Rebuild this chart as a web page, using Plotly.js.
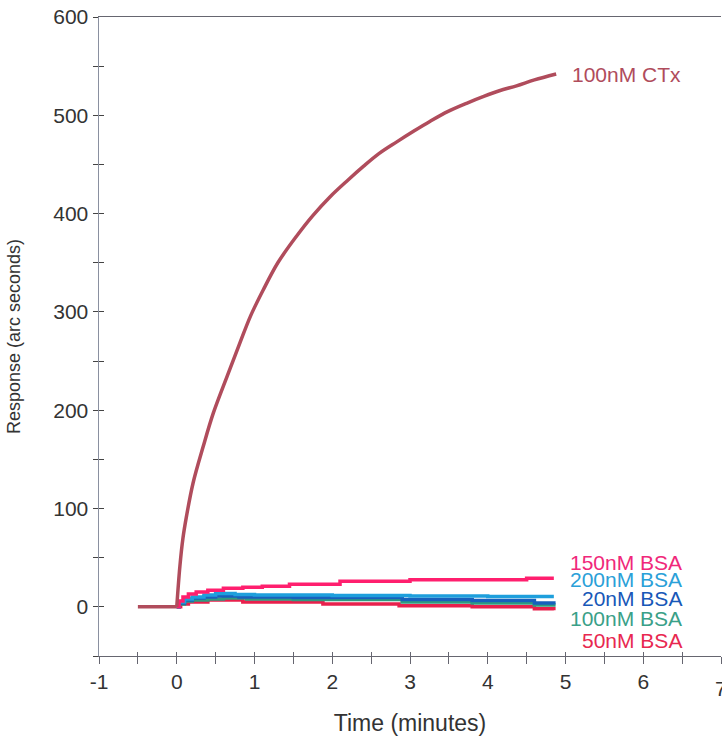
<!DOCTYPE html>
<html>
<head>
<meta charset="utf-8">
<script src="https://cdn.plot.ly/plotly-3.0.1.min.js"></script>
<style>html,body{margin:0;padding:0;background:#fff;overflow:hidden;}#chart{width:722px;height:738px;}</style>
</head>
<body>
<div id="chart"></div>
<script>
// Time (minutes) and response (arc seconds)
const ctxBaseT = [-0.5, 0];
const ctxBaseV = [0, 0];
const ctxT = [0, 0.04, 0.08, 0.125, 0.21, 0.34, 0.47, 0.65, 0.81, 0.95, 1.11, 1.3, 1.54, 1.75, 1.97, 2.2, 2.4, 2.6, 2.83, 3.05, 3.26, 3.49, 3.75, 3.94, 4.15, 4.37, 4.6, 4.88];
const ctxV = [0, 41, 70, 92, 126, 163, 197, 235, 268, 296, 322, 350, 377, 398, 417, 434, 448, 461, 473, 484, 494, 504, 513, 519, 525, 530, 536, 542];

const bsa150T = [0, 0.03, 0.08, 0.15, 0.25, 0.4, 0.6, 0.85, 1.1, 1.45, 2.1, 3.0, 4.5, 4.85];
const bsa150V = [0, 6, 10, 13, 15, 17, 19, 20, 21, 23, 26, 27.5, 29, 29];

const bsa200T = [0, 0.03, 0.1, 0.2, 0.35, 0.5, 0.75, 1.0, 2.0, 3.0, 4.0, 4.85];
const bsa200V = [0, 5, 8, 10, 12, 13.5, 12.5, 12, 11.5, 11, 10.5, 10.5];

const bsa20T = [0, 0.03, 0.1, 0.2, 0.35, 0.5, 0.8, 1.5, 2.9, 3.8, 4.6, 4.85];
const bsa20V = [0, 4, 7, 9, 10, 11, 10, 9.5, 7.5, 6.5, 4, 2.5];

const bsa100T = [0, 0.03, 0.1, 0.2, 0.4, 0.6, 0.9, 1.5, 2.9, 3.8, 4.6, 4.85];
const bsa100V = [0, 3, 6, 7, 8, 9, 8, 7.5, 5, 4, 2, 0];

const bsa50T = [0, 0.05, 0.15, 0.4, 0.85, 1.88, 2.86, 3.8, 4.6, 4.85];
const bsa50V = [0, 3, 5, 7, 5, 3, 1, 0, -2, -3.5];

const seriesNames = ["100nM CTx", "150nM BSA", "200nM BSA", "20nM BSA", "100nM BSA", "50nM BSA"];
const lineColors = ["#b04c5c", "#ff1f6e", "#1e9fdc", "#1860bc", "#2e9c80", "#e8204c"];
const labelColors = ["#b04c5c", "#f0287a", "#2aa0d8", "#1858b8", "#3aa088", "#e82850"];
const labelY = [542, 45.6, 27.8, 8.5, -12, -34.4];

const xTicks = [-1, 0, 1, 2, 3, 4, 5, 6, 7];
const yTicks = [0, 100, 200, 300, 400, 500, 600];

const font = "Liberation Sans, Arial, Helvetica, sans-serif";

const bsa = [[bsa150T, bsa150V], [bsa200T, bsa200V], [bsa20T, bsa20V], [bsa100T, bsa100V], [bsa50T, bsa50V]];
const traces = [];
// drawing order: 50nM, 100nM, 20nM, 200nM, 150nM (indexes into bsa)
const order = [4, 3, 2, 1, 0];
order.forEach(i => {
  traces.push({
    x: bsa[i][0], y: bsa[i][1], type: "scatter", mode: "lines",
    line: {color: lineColors[i + 1], width: 3.5, shape: "hv"},
    name: seriesNames[i + 1], hoverinfo: "skip"
  });
});
traces.push({
  x: ctxBaseT, y: ctxBaseV, type: "scatter", mode: "lines",
  line: {color: lineColors[0], width: 3.5},
  name: seriesNames[0], hoverinfo: "skip"
});
traces.push({
  x: ctxT, y: ctxV, type: "scatter", mode: "lines",
  line: {color: lineColors[0], width: 3.5, shape: "spline", smoothing: 1},
  name: seriesNames[0], hoverinfo: "skip"
});

const annotations = seriesNames.map((n, i) => ({
  x: i === 0 ? 5.06 : 6.52, y: labelY[i], xref: "x", yref: "y",
  text: n, showarrow: false,
  xanchor: i === 0 ? "left" : "right", yanchor: "middle",
  font: {family: font, size: 21, color: labelColors[i]}
}));
// last x tick label, cut by the right edge as in the source
annotations.push({
  x: xTicks[xTicks.length - 1], y: -50, xref: "x", yref: "y", text: String(xTicks[xTicks.length - 1]),
  showarrow: false, xanchor: "center", yanchor: "middle", yshift: -32,
  font: {family: font, size: 21, color: "#333"}
});

const axLine = "#666670";
const layout = {
  width: 722, height: 738,
  margin: {l: 99, r: 1, t: 17, b: 82},
  paper_bgcolor: "#fff", plot_bgcolor: "#fff",
  showlegend: false,
  font: {family: font, color: "#333"},
  xaxis: {
    range: [-1, 7], tickvals: xTicks.slice(0, -1), ticktext: xTicks.slice(0, -1).map(String),
    showgrid: false, zeroline: false,
    showline: true, linecolor: axLine, linewidth: 1, mirror: true,
    ticks: "outside", ticklen: 7, tickcolor: axLine, tickwidth: 1,
    minor: {tickvals: [-0.5, 0.5, 1.5, 2.5, 3.5, 4.5, 5.5, 6.5, 7], ticks: "outside", ticklen: 7, tickcolor: axLine},
    tickfont: {family: font, size: 21, color: "#333"},
    title: {text: "Time (minutes)", font: {family: font, size: 23, color: "#333"}, standoff: 22}
  },
  xaxis2: {
    range: [-1, 7], overlaying: "x", anchor: "y", showgrid: false, zeroline: false,
    showline: false, showticklabels: false,
    tickvals: [-1, -0.5, 0, 0.5, 1, 1.5, 2, 2.5, 3, 3.5, 4, 4.5, 5, 5.5, 6, 6.5, 7],
    ticks: "inside", ticklen: 4, tickcolor: axLine, tickwidth: 1
  },
  yaxis: {
    range: [-50, 600], tickvals: yTicks, ticktext: yTicks.map(String),
    showgrid: false, zeroline: false,
    showline: true, linecolor: "#8a90a0", linewidth: 1.5,
    ticks: "outside", ticklen: 5, tickcolor: "#444", tickwidth: 1,
    minor: {tickvals: [-50, 50, 150, 250, 350, 450, 550], ticks: "outside", ticklen: 5, tickcolor: "#444"},
    tickfont: {family: font, size: 21, color: "#333"},
    title: {text: "Response (arc seconds)", font: {family: font, size: 18, color: "#333"}, standoff: 28}
  },
  yaxis2: {
    range: [-50, 600], overlaying: "y", anchor: "x", showgrid: false, zeroline: false,
    showline: false, showticklabels: false,
    tickvals: [-50, 0, 50, 100, 150, 200, 250, 300, 350, 400, 450, 500, 550],
    ticks: "inside", ticklen: 5, tickcolor: "#444", tickwidth: 1
  },
  annotations: annotations
};
// dummy trace for the overlay axes so they are drawn
traces.push({x: [null], y: [null], xaxis: "x2", yaxis: "y2", type: "scatter", mode: "lines", hoverinfo: "skip", showlegend: false});

Plotly.newPlot("chart", traces, layout, {staticPlot: true, displayModeBar: false});
</script>
</body>
</html>
